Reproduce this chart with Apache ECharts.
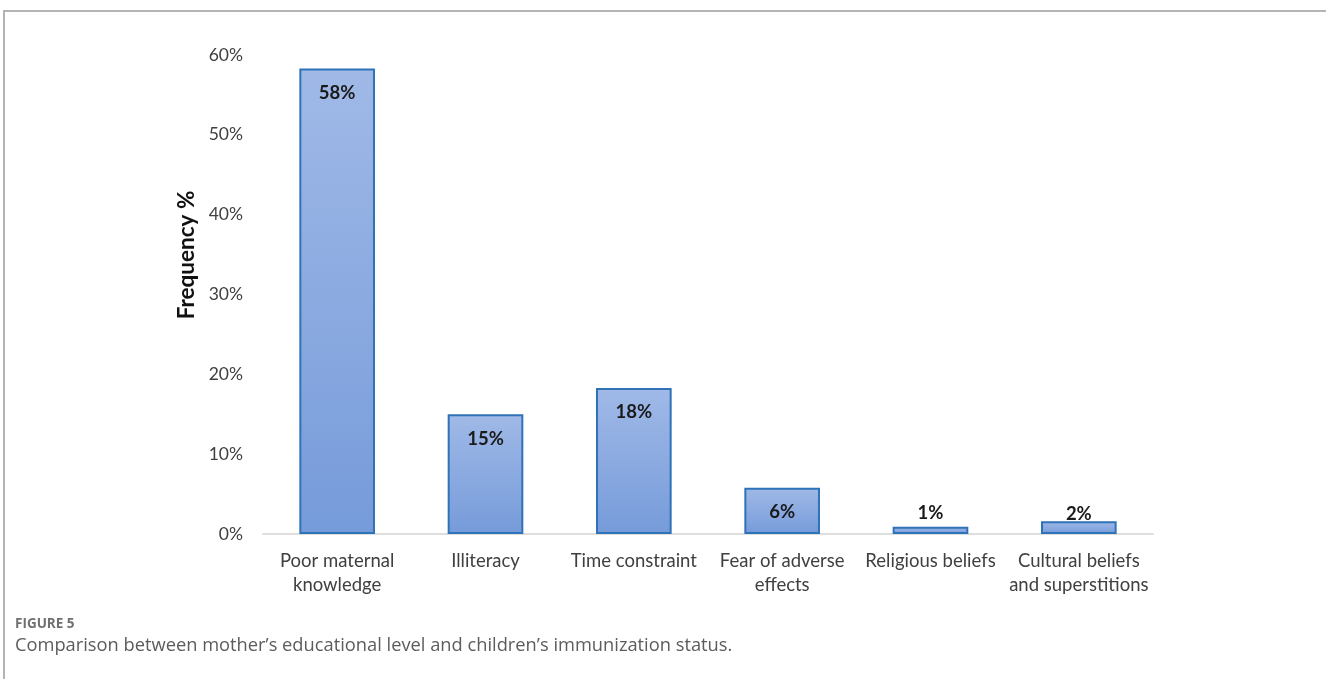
<!DOCTYPE html>
<html>
<head>
<meta charset="utf-8">
<script src="https://cdn.jsdelivr.net/npm/echarts@6/dist/echarts.min.js"></script>
<style>
  html, body { margin: 0; padding: 0; background: #fff; }
  #chart { width: 1326px; height: 679px; }
</style>
</head>
<body>
<div id="chart"></div>
<script>
// Reasons for incomplete immunization (percent of respondents)
const categories = [
  'Poor maternal\nknowledge',
  'Illiteracy',
  'Time constraint',
  'Fear of adverse\neffects',
  'Religious beliefs',
  'Cultural beliefs\nand superstitions'
];
const frequency = [58.3, 15.0, 18.3, 5.8, 0.9, 1.6];
const yTicks = [0, 10, 20, 30, 40, 50, 60];

const chart = echarts.init(document.getElementById('chart'), null, { renderer: 'canvas' });

const barFill = new echarts.graphic.LinearGradient(0, 0, 0, 1, [
  { offset: 0, color: '#a0b9e7' },
  { offset: 1, color: '#769bda' }
]);

// Tall bars carry their label inside the top; short bars get it just above.
const barData = frequency.map(function (v) {
  const item = { value: v };
  if (v < 3) {
    item.label = { position: 'top', distance: v < 1.2 ? 4 : -2 };
  }
  return item;
});

chart.setOption({
  animation: false,
  textStyle: { fontFamily: 'Lato, "Open Sans", sans-serif' },
  grid: { left: 263, right: 173, top: 55, bottom: 145, containLabel: false },
  xAxis: {
    type: 'category',
    data: categories,
    axisLine: { show: true, lineStyle: { color: '#d4d4d4', width: 1.5 } },
    axisTick: { show: false },
    axisLabel: {
      color: '#404040',
      fontSize: 18.5,
      lineHeight: 24,
      margin: 15,
      interval: 0,
      fontFamily: 'Lato, "Open Sans", sans-serif'
    }
  },
  yAxis: {
    type: 'value',
    min: yTicks[0],
    max: yTicks[yTicks.length - 1],
    interval: 10,
    axisLine: { show: false },
    axisTick: { show: false },
    splitLine: { show: false },
    axisLabel: {
      color: '#404040',
      fontSize: 17.5,
      margin: 20,
      formatter: function (v) { return v + '%'; }
    }
  },
  series: [{
    type: 'bar',
    data: barData,
    barWidth: '51%',
    itemStyle: {
      color: barFill,
      borderColor: '#2e72b8',
      borderWidth: 2
    },
    label: {
      show: true,
      position: 'insideTop',
      distance: 15,
      color: '#1a1a1a',
      fontWeight: 'bold',
      fontSize: 18.5,
      formatter: function (p) { return Math.round(p.value) + '%'; }
    }
  }],
  graphic: [
    // figure frame: top rule and left rule
    { type: 'line', shape: { x1: 3, y1: 11, x2: 1326, y2: 11 }, style: { stroke: '#b4b4b4', lineWidth: 2 } },
    { type: 'line', shape: { x1: 4, y1: 11, x2: 4, y2: 679 }, style: { stroke: '#b4b4b4', lineWidth: 2 } },
    // y-axis title
    {
      type: 'text',
      x: 187, y: 255,
      rotation: Math.PI / 2,
      style: {
        text: 'Frequency %',
        fontSize: 22.5,
        fontWeight: 'bold',
        fill: '#111',
        fontFamily: 'Lato, "Open Sans", sans-serif',
        align: 'center',
        verticalAlign: 'middle'
      }
    },
    // caption
    {
      type: 'text',
      left: 15, top: 617,
      style: {
        text: 'FIGURE 5',
        fontSize: 13.5,
        fontWeight: 'bold',
        fill: '#707070',
        fontFamily: '"Open Sans", "Noto Sans", sans-serif'
      }
    },
    {
      type: 'text',
      left: 15, top: 637,
      style: {
        text: 'Comparison between mother\u2019s educational level and children\u2019s immunization status.',
        fontSize: 18.3,
        fill: '#5c5c5c',
        fontFamily: '"Open Sans", "Noto Sans", sans-serif'
      }
    }
  ]
});
</script>
</body>
</html>
